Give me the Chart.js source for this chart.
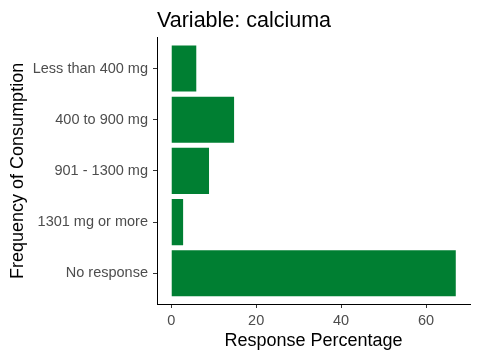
<!DOCTYPE html>
<html>
<head>
<meta charset="utf-8">
<script src="https://cdn.jsdelivr.net/npm/chart.js@4.4.0/dist/chart.umd.min.js"></script>
<style>
  html, body { margin: 0; padding: 0; background: #fff; }
</style>
</head>
<body>
<canvas id="myChart" width="480" height="360"></canvas>
<script>
// categories, top to bottom
const categories = ['Less than 400 mg', '400 to 900 mg', '901 - 1300 mg', '1301 mg or more', 'No response'];
const percentages = [5.9, 14.8, 8.9, 2.8, 67.0];
const xTicks = [0, 20, 40, 60];

const points = categories.map((c, i) => ({ x: percentages[i], y: i }));
const tickGray = '#4D4D4D';
const fontFamily = "Arial, 'Liberation Sans', sans-serif";

const ctx = document.getElementById('myChart').getContext('2d');
const myChart = new Chart(ctx, {
    type: 'bar',
    data: {
        datasets: [{
            label: 'Response Percentage',
            data: points,
            backgroundColor: '#007F32',
            borderWidth: 0,
            barPercentage: 0.9,
            categoryPercentage: 1.0
        }]
    },
    options: {
        indexAxis: 'y',
        responsive: false,
        animation: false,
        layout: { padding: { left: 0, right: 10, top: 0, bottom: 0 } },
        plugins: {
            legend: { display: false },
            tooltip: { enabled: false },
            title: {
                display: true,
                text: 'Variable: calciuma',
                align: 'start',
                fullSize: false,
                color: '#000',
                font: { family: fontFamily, size: 21.5, weight: 'normal' },
                padding: { top: 8, bottom: 4 }
            }
        },
        scales: {
            x: {
                type: 'linear',
                min: -3.35,
                max: 70.35,
                afterBuildTicks: scale => { scale.ticks = xTicks.map(v => ({ value: v })); },
                grid: { drawOnChartArea: false, drawTicks: true, tickLength: 4, color: '#333' },
                border: { display: true, color: '#000', width: 1 },
                ticks: {
                    color: tickGray,
                    padding: 4,
                    font: { family: fontFamily, size: 14.5 }
                },
                title: {
                    display: true,
                    text: 'Response Percentage',
                    color: '#000',
                    font: { family: fontFamily, size: 18 },
                    padding: { top: 0, bottom: 8.6 }
                },
                afterFit: scale => { scale.height = 56; }
            },
            y: {
                type: 'linear',
                reverse: true,
                offset: false,
                min: -0.6,
                max: 4.6,
                afterBuildTicks: scale => { scale.ticks = categories.map((c, i) => ({ value: i })); },
                grid: { offset: false, drawOnChartArea: false, drawTicks: true, tickLength: 4, color: '#333' },
                border: { display: true, color: '#000', width: 1 },
                ticks: {
                    color: tickGray,
                    padding: 5,
                    autoSkip: false,
                    font: { family: fontFamily, size: 14.5 },
                    callback: v => categories[v]
                },
                title: {
                    display: true,
                    text: 'Frequency of Consumption',
                    color: '#000',
                    font: { family: fontFamily, size: 18 },
                    padding: { top: 7, bottom: 0 }
                },
                afterFit: scale => { scale.width = 157; }
            }
        }
    }
});
</script>
</body>
</html>
